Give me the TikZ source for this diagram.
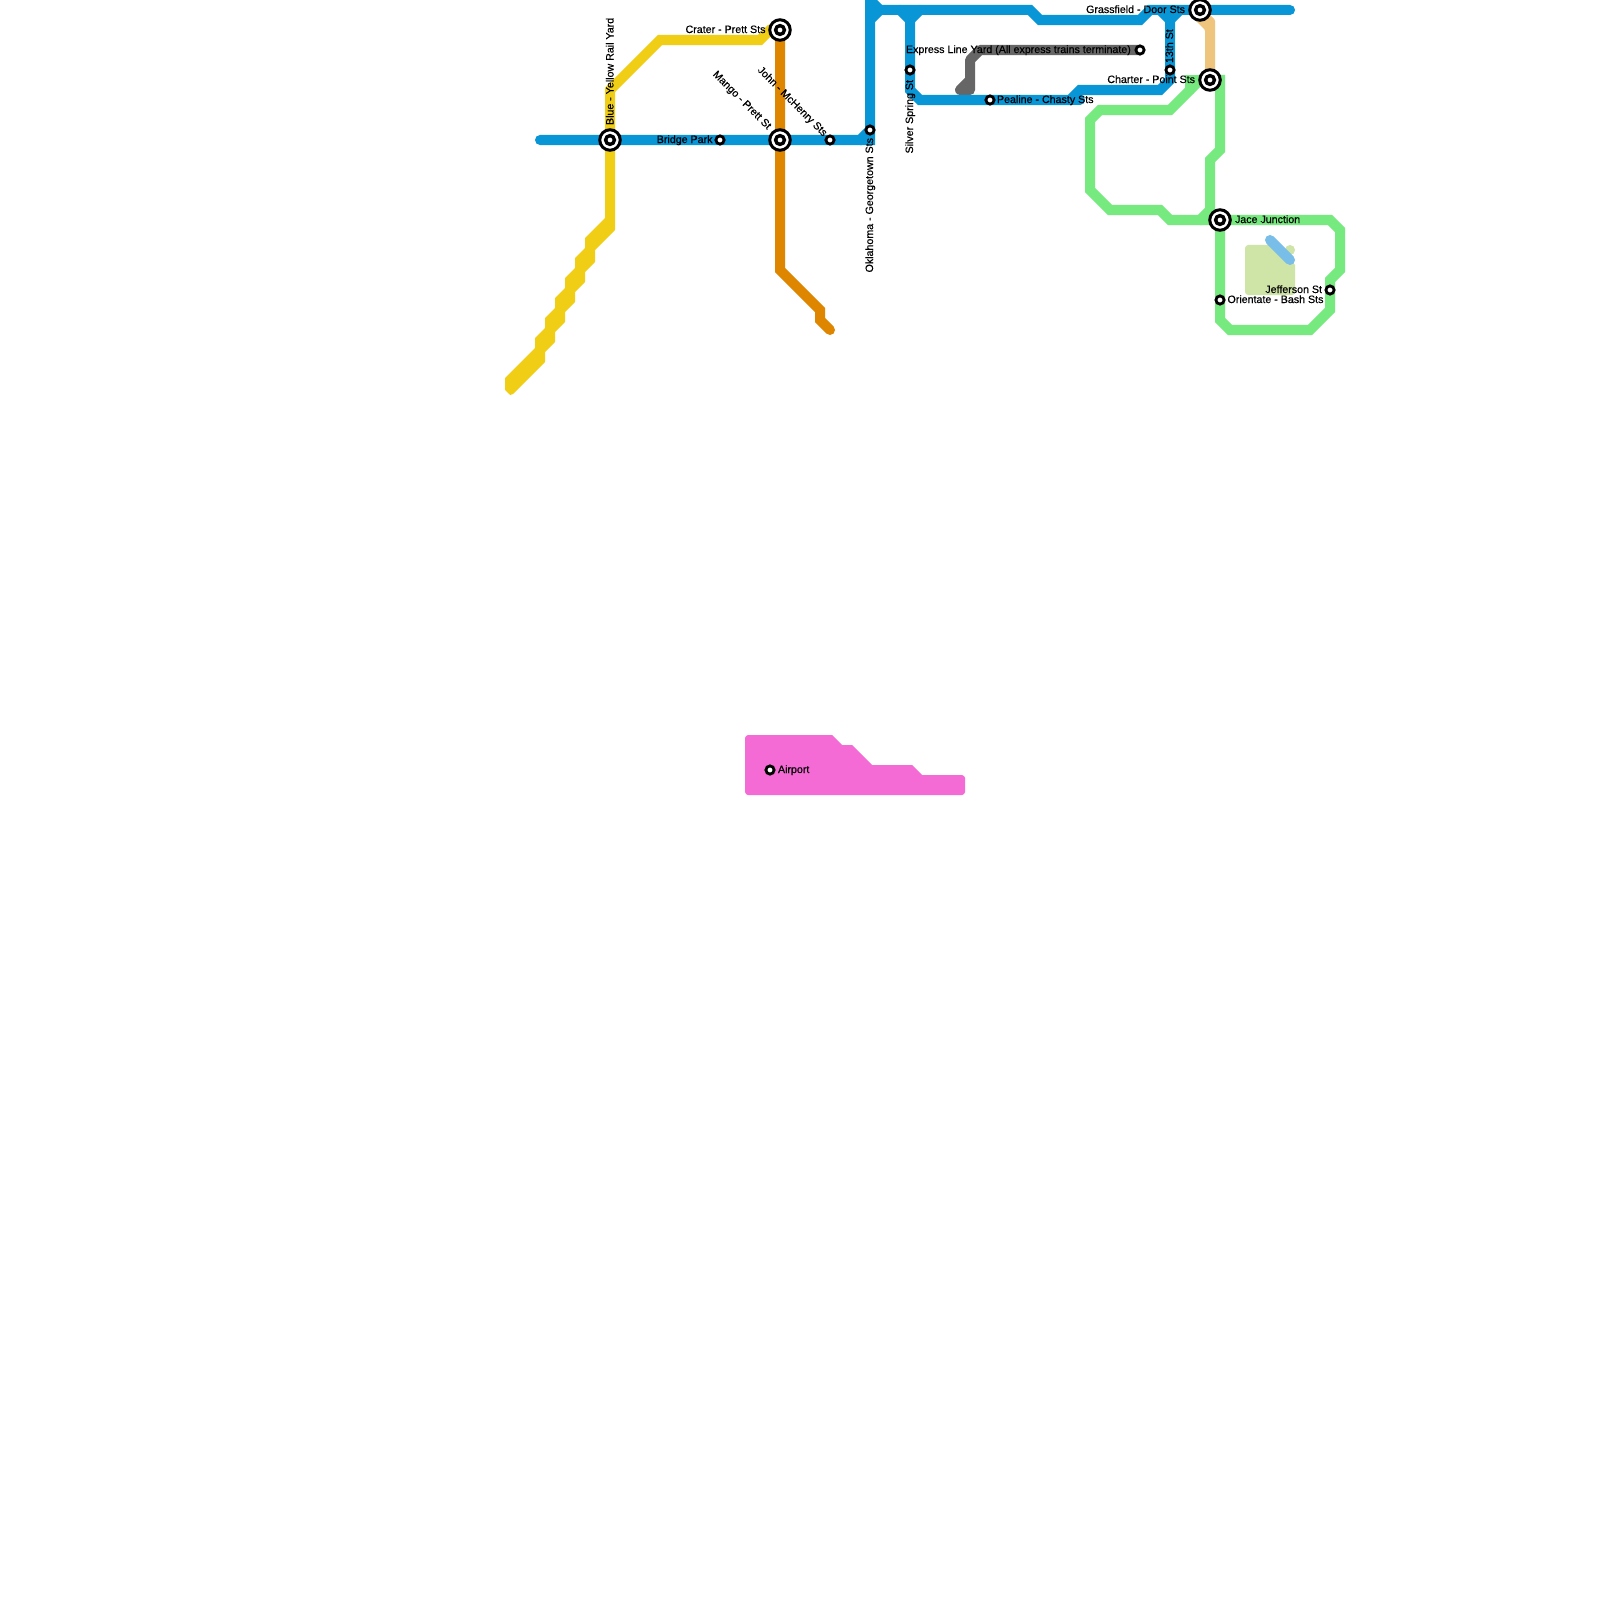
\documentclass[tikz,border=0pt]{standalone}
\usepackage{fontspec}
\newfontfamily\lblfont{Liberation Sans}[FakeBold=0.4]
\usetikzlibrary{backgrounds}
\definecolor{cblue}{HTML}{0896D7}
\definecolor{cyellow}{HTML}{F0CE15}
\definecolor{corange}{HTML}{DF8600}
\definecolor{cgreen}{HTML}{76E97F}
\definecolor{ctan}{HTML}{EFC47D}
\definecolor{cgray}{HTML}{666666}
\definecolor{cpink}{HTML}{F46BD5}
\definecolor{csky}{HTML}{79BDE9}
\definecolor{cpale}{HTML}{CFE4A7}
\tikzset{
  route/.style={line width=0.1cm,line cap=round,line join=miter},
  stn/.style={circle,draw=black,fill=white,inner sep=0pt,outer sep=0pt,minimum size=0.082cm,line width=0.028cm},
  hubcore/.style={circle,draw=black,fill=white,inner sep=0pt,outer sep=0pt,minimum size=0.088cm,line width=0.034cm},
  hub/.style={circle,draw=black,fill=white,inner sep=0pt,outer sep=0pt,minimum size=0.205cm,line width=0.03cm},
  lbl/.style={inner sep=0pt,outer sep=0pt,font=\lblfont\fontsize{3.03pt}{3.6pt}\selectfont,text height=0.08cm,text depth=0pt,text=black},
}
\newcommand{\hubstn}[2]{\node[hub] (#1) at (#2) {}; \node[hubcore] (#1-core) at (#2) {};}
\begin{document}
\begin{tikzpicture}[x=0.01cm,y=-0.01cm]
\useasboundingbox (0,0) rectangle (1600,1600);
% stations
\hubstn{blueyellow}{610,140}
\hubstn{crater}{780,30}
\hubstn{mango}{780,140}
\hubstn{grassfield}{1200,10}
\hubstn{charter}{1210,80}
\hubstn{jace}{1220,220}
\node[stn] (bridge) at (720,140) {};
\node[stn] (john) at (830,140) {};
\node[stn] (oklahoma) at (870,130) {};
\node[stn] (silver) at (910,70) {};
\node[stn] (pealine) at (990,100) {};
\node[stn] (express) at (1140,50) {};
\node[stn] (thirteenth) at (1170,70) {};
\node[stn] (orientate) at (1220,300) {};
\node[stn] (jefferson) at (1330,290) {};
\begin{pgfonlayer}{background}
\fill[white] (0,0) rectangle (1600,1600);
% airport area
\fill[cpink] (745,738) -- (746,736) -- (748,735) -- (832,735) -- (842,745) -- (852,745) -- (872,765) -- (912,765) -- (922,775) -- (962,775) -- (964,776) -- (965,778) -- (965,792) -- (964,794) -- (962,795) -- (748,795) -- (746,794) -- (745,792) -- cycle;
% park
\fill[cpale] (1245,248) -- (1246,246) -- (1248,245) -- (1275,245) -- (1295,265) -- (1295,292) -- (1294,294) -- (1292,295) -- (1248,295) -- (1246,294) -- (1245,292) -- cycle;
\fill[cpale] (1290,250) circle (0.05cm);
\draw[route,csky] (1270,240) -- (1290,260);
% gray
\draw[route,cgray,line join=round] (express.center) -- (980,50) -- (970,60) -- (970,90) -- (960,90) -- (970,80);
% yellow
\fill[cyellow,rounded corners=0.005cm] (615,140) -- (615,230) -- (595,250) -- (595,262) -- (585,272) -- (585,282) -- (575,292) -- (575,302) -- (565,312) -- (565,322) -- (555,332) -- (555,342) -- (545,352) -- (545,362) -- (513,394) -- (510,395) -- (505,390) -- (505,378) -- (535,348) -- (535,338) -- (545,328) -- (545,318) -- (555,308) -- (555,298) -- (565,288) -- (565,278) -- (575,268) -- (575,258) -- (585,248) -- (585,238) -- (605,218) -- (605,140) -- cycle;
\draw[route,cyellow] (blueyellow.center) -- (610,90) -- (660,40) -- (760,40) -- (770,30) -- (crater.center);
% orange
\draw[route,corange] (crater.center) -- (mango.center) -- (780,270) -- (820,310) -- (820,320) -- (830,330);
% tan
\fill[ctan,rounded corners=0.01cm] (1195,20) -- (1205,30) -- (1205,80) -- (1215,80) -- (1215,20) -- (1210,15) -- (1200,15) -- cycle;
\draw[route,ctan] (grassfield.center) -- (1200,18);
% blue
\draw[route,cblue] (540,140) -- (blueyellow.center) -- (bridge.center) -- (mango.center) -- (john.center) -- (860,140) -- (oklahoma.center);
\draw[route,cblue] (860,140) -- (870,140) -- (oklahoma.center) -- (870,20) -- (880,10) -- (1030,10) -- (1040,20) -- (1140,20) -- (1150,10) -- (grassfield.center) -- (1290,10);
\draw[route,cblue] (870,0) -- (870,20);
\draw[route,cblue] (870,0) -- (880,10);
\draw[route,cblue] (900,10) -- (910,20) -- (920,10);
\draw[route,cblue] (910,20) -- (silver.center) -- (910,90) -- (920,100) -- (pealine.center) -- (1070,100) -- (1080,90) -- (1160,90) -- (1170,80) -- (thirteenth.center) -- (1170,20);
\draw[route,cblue] (1070,100) -- (1080,100);
\draw[route,cblue] (1160,10) -- (1170,20) -- (1180,10);
% green
\draw[route,cgreen] (charter.center) -- (1190,80) -- (1190,90);
\draw[route,cgreen] (charter.center) -- (1200,80) -- (1170,110) -- (1100,110) -- (1090,120) -- (1090,190) -- (1110,210) -- (1160,210) -- (1170,220) -- (1200,220) -- (1210,210) -- (1210,160) -- (1220,150) -- (1220,80) -- (charter.center);
\draw[route,cgreen] (1200,220) -- (jace.center) -- (1330,220) -- (1340,230) -- (1340,270) -- (1330,280) -- (jefferson.center) -- (1330,310) -- (1310,330) -- (1230,330) -- (1220,320) -- (orientate.center) -- (jace.center);
\end{pgfonlayer}
\node[stn] (airport) at (770,770) {};
% labels
\node[lbl,rotate=90,anchor=west] (t1) at (609.5,125) {Blue - Yellow Rail Yard};
\node[lbl,anchor=east] (t2) at (765.5,29) {Crater - Prett Sts};
\node[lbl,anchor=east] (t3) at (712.5,139) {Bridge Park};
\node[lbl,rotate=-45,anchor=east] (t4) at (770,127) {Mango - Prett St};
\node[lbl,rotate=-45,anchor=east] (t5) at (826,134) {John - McHenry Sts};
\node[lbl,rotate=90,anchor=east] (t6) at (869,138) {Oklahoma - Georgetown Sts};
\node[lbl,rotate=90,anchor=east] (t7) at (909,80) {Silver Spring St};
\node[lbl,anchor=west] (t8) at (997,99) {Pealine - Chasty Sts};
\node[lbl,anchor=west] (t9) at (906,49) {Express Line Yard (All express trains terminate)};
\node[lbl,rotate=90,anchor=west] (t10) at (1169,63) {13th St};
\node[lbl,anchor=east] (t11) at (1185,9) {Grassfield - Door Sts};
\node[lbl,anchor=east] (t12) at (1195,79) {Charter - Point Sts};
\node[lbl,anchor=west] (t13) at (1235,219) {Jace Junction};
\node[lbl,anchor=east] (t14) at (1322,289) {Jefferson St};
\node[lbl,anchor=west] (t15) at (1227.5,299) {Orientate - Bash Sts};
\node[lbl,anchor=west] (t16) at (778,769) {Airport};
\end{tikzpicture}
\end{document}
